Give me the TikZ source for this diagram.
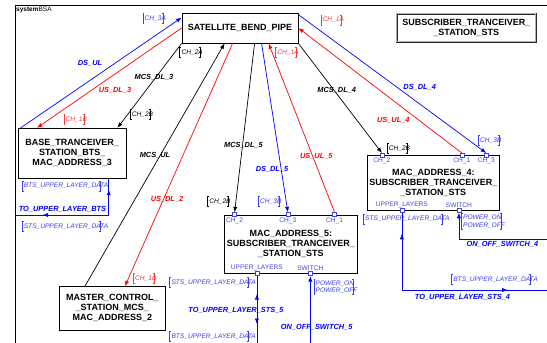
\documentclass[tikz,border=0pt]{standalone}
\usepackage{fontspec}
\setmainfont{Liberation Sans}
\usetikzlibrary{arrows.meta,backgrounds,decorations.markings}
\definecolor{lineblue}{RGB}{0,0,255}
\definecolor{linered}{RGB}{255,0,0}
\definecolor{tagblue}{RGB}{60,60,235}
\definecolor{tagred}{RGB}{240,60,60}
\definecolor{portblue}{RGB}{70,70,220}
\newcommand{\blockfont}{\fontsize{9}{10}\selectfont\bfseries}
\newcommand{\flowfont}{\fontsize{7.4}{8}\selectfont\bfseries\itshape}
\newcommand{\tagfont}{\fontsize{6.6}{7.2}\selectfont\itshape}
\newcommand{\portfont}{\fontsize{6.6}{7}\selectfont}

\begin{document}
\begin{tikzpicture}[%
    x=1pt, y=-1pt,%
    show background rectangle,%
    tight background,%
    background rectangle/.style={fill=white}%
  ]
  \tikzset{%
    block/.style={draw=black, line width=0.8pt, align=center, font=\blockfont, inner sep=0pt},%
    port/.style={draw=portblue, fill=white, line width=0.6pt, minimum size=4pt, inner sep=0pt, label distance=1.5pt},%
    portlbl/.style={font=\portfont, text=portblue, inner sep=0.5pt},%
    flow/.style={font=\flowfont, inner sep=0pt},%
    tag/.style={font=\tagfont, inner xsep=1.5pt, inner ysep=1.6pt, text height=5pt, text depth=1.4pt},%
    tagtwo/.style={font=\tagfont, inner xsep=1.5pt, inner ysep=1.2pt, align=left},%
    link/.style={line width=0.7pt},%
    toarrow/.style={-{Latex[length=5.5pt,width=4.2pt]}},%
    fromarrow/.style={{Latex[length=5.5pt,width=4.2pt]}-},%
    midarrows/.style 2 args={postaction=decorate, decoration={markings,%
        mark=at position #1 with {\arrowreversed{Latex[length=5.5pt,width=4.2pt]}},%
        mark=at position #2 with {\arrow{Latex[length=5.5pt,width=4.2pt]}}}}%
  }%
  \useasboundingbox (0,0) rectangle (547,343);%

  %
  % Frame
  %
  \coordinate (frame nw) at (15,5.5);%
  \coordinate (bottom edge) at (0,343);%
  \coordinate (right edge) at (547,0);%
  \draw[line width=0.8pt] (frame nw |- bottom edge) -- (frame nw) -- (frame nw -| right edge);%
  \node[anchor=north west, inner sep=0.5pt, font=\fontsize{6.5}{7}\selectfont] (sysname)%
  at ([xshift=0.5pt,yshift=-0.8pt]frame nw) {\textbf{system}BSA};%

  %
  % Blocks
  %
  \node[block, minimum width=116pt, minimum height=30pt] (sat) at (240,28) {SATELLITE\_BEND\_PIPE};%
  \node[block, draw=black!85, line width=0.6pt, double=black!30, double distance=1.2pt,%
    minimum width=139pt, minimum height=28pt] (sts) at (466.3,27.8) {SUBSCRIBER\_TRANCEIVER\_\\\_STATION\_STS};%
  \node[block, minimum width=107.7pt, minimum height=50pt] (bts) at (72.2,153.3)%
  {BASE\_TRANCEIVER\_\\STATION\_BTS\_\\MAC\_ADDRESS\_3};%
  \node[block, minimum width=106pt, minimum height=43.3pt] (mcs) at (112.3,308.3)%
  {MASTER\_CONTROL\_\\\_STATION\_MCS\_\\MAC\_ADDRESS\_2};%
  \node[block, minimum width=133pt, minimum height=58.3pt] (mac5) at (290.8,244.2)%
  {MAC\_ADDRESS\_5:\\SUBSCRIBER\_TRANCEIVER\_\\\_STATION\_STS};%
  \node[block, minimum width=132pt, minimum height=54.3pt] (mac4) at (433.3,182.9)%
  {MAC\_ADDRESS\_4:\\SUBSCRIBER\_TRANCEIVER\_\\\_STATION\_STS};%

  % Ports
  \foreach \p/\blk/\dx/\txt in {m5ch2/mac5/10.7/CH\_2, m5ch3/mac5/64/CH\_3, m5ch1/mac5/110.7/CH\_1,%
      m4ch2/mac4/15/CH\_2, m4ch1/mac4/95/CH\_1, m4ch3/mac4/119.4/CH\_3} {%
      \node[port, label={[portlbl]below:\txt}] (\p) at ([xshift=\dx pt]\blk.north west) {};%
    }%
  \foreach \p/\blk/\dx/\txt in {m5up/mac5/33/UPPER\_LAYERS, m5sw/mac5/86.4/SWITCH,%
      m4up/mac4/35/UPPER\_LAYERS, m4sw/mac4/92/SWITCH} {%
      \node[port, label={[portlbl]above:\txt}] (\p) at ([xshift=\dx pt]\blk.south west) {};%
    }%

  %
  % Channels
  %
  \draw[link, lineblue, toarrow] ([xshift=2.7pt]bts.north west) -- ([yshift=-5pt]sat.north west);%
  \draw[link, linered, toarrow] (sat.west) -- ([xshift=19pt]bts.north west);%
  \draw[link, toarrow] (sat.south west) -- ([xshift=-9pt]bts.north east);%
  \draw[link, toarrow] ([xshift=26pt]mcs.north west) -- ([xshift=43pt]sat.south west);%
  \draw[link, linered, toarrow] ([xshift=51pt]sat.south west) -- ([xshift=66pt]mcs.north west);%
  \draw[link, toarrow] ([xshift=73pt]sat.south west) -- (m5ch2.north);%
  \draw[link, lineblue, toarrow] ([xshift=80pt]sat.south west) -- (m5ch3.north);%
  \draw[link, linered, toarrow] (m5ch1.north) -- ([xshift=87pt]sat.south west);%
  \draw[link, toarrow] (sat.south east) -- (m4ch2.north);%
  \draw[link, linered, toarrow] (m4ch1.north) -- (sat.east);%
  \draw[link, lineblue, toarrow] ([yshift=-2pt]sat.north east) -- (m4ch3.north);%

  % Upper layers and switches
  \coordinate (bts data end) at (15,215);%
  \coordinate (sts4 end) at (547,290);%
  \coordinate (sw4 end) at (547,239);%
  \draw[link, lineblue, midarrows={11pt}{102.5pt}] ([xshift=-17.7pt]bts.south east) |- (bts data end);%
  \draw[link, lineblue, midarrows={18pt}{48pt}] (m5up.south) -- (m5up |- bottom edge);%
  \draw[link, lineblue, midarrows={21pt}{183pt}] (m4up.south) |- (sts4 end);%
  \draw[link, lineblue, fromarrow] (m5sw.south) -- (m5sw |- bottom edge);%
  \draw[link, lineblue, fromarrow] (m4sw.south) |- (sw4 end);%

  %
  % Labels
  %
  \foreach \n/\c/\x/\y/\txt in {dsul/lineblue/90/63/DS\_UL, usdl3/linered/115/90/US\_DL\_3,%
      mcsdl3/black/154/77/MCS\_DL\_3, mcsul/black/155/155/MCS\_UL, usdl2/linered/167/199/US\_DL\_2,%
      mcsdl5/black/243.5/145/MCS\_DL\_5, dsdl5/lineblue/272/169.3/DS\_DL\_5,%
      usul5/linered/316.3/156/US\_UL\_5, mcsdl4/black/336.7/90/MCS\_DL\_4,%
      dsdl4/lineblue/419.7/87.3/DS\_DL\_4, usul4/linered/393.3/120/US\_UL\_4,%
      upbts/lineblue/62.5/209.3/TO\_UPPER\_LAYER\_BTS, upsts5/lineblue/236/310.7/TO\_UPPER\_LAYER\_STS\_5,%
      onoff5/lineblue/316.7/327.7/ON\_OFF\_SWITCH\_5, onoff4/lineblue/502.5/244/ON\_OFF\_SWITCH\_4,%
      upsts4/lineblue/462.5/297.3/TO\_UPPER\_LAYER\_STS\_4} {%
      \node[flow, \c] (\n) at (\x,\y) {\txt};%
    }%

  % Bracketed tags
  \foreach \n/\st/\c/\x/\y/\s/\txt in {t1/tag/tagblue/155.3/18.3/4/CH\_3A, t2/tag/tagred/76.3/119.3/4/CH\_1B,%
      t3/tag/black/142.5/114.7/4/CH\_2B, t4/tag/black/192.2/52.3/4/CH\_2A, t5/tag/tagred/145.8/278.3/4/CH\_1B,%
      t6/tag/black/220/201.7/4/CH\_2B, t7/tag/tagblue/270.8/201.7/4/CH\_3B, t8/tag/tagred/288/52.3/4/CH\_1A,%
      t9/tag/tagred/333.3/20/4/CH\_1A, t10/tag/black/399.5/148.3/4/CH\_2B, t11/tag/tagblue/490.8/140.7/4/CH\_3B,%
      t12/tag/tagblue/66/186/9/BTS\_UPPER\_LAYER\_DATA, t13/tag/tagblue/66/226.7/9/STS\_UPPER\_LAYER\_DATA,%
      t14/tag/tagblue/213.7/282.3/9/STS\_UPPER\_LAYER\_DATA, t15/tag/tagblue/213.7/336.7/9/BTS\_UPPER\_LAYER\_DATA,%
      t16/tag/tagblue/407.4/219/9/STS\_UPPER\_LAYER\_DATA, t17/tag/tagblue/495.5/279.3/9/BTS\_UPPER\_LAYER\_DATA,%
      p5/tagtwo/tagblue/336.5/286.7/5.5/POWER\_ON\\POWER\_OFF, p4/tagtwo/tagblue/484/221.5/5.5/POWER\_ON\\POWER\_OFF} {%
      \node[\st, \c] (\n) at (\x,\y) {\txt};%
      \draw[\c, line width=0.8pt] ([xshift=1.5pt]\n.north west) -| (\n.south west) -- ++(1.5,0);%
      \draw[\c, line width=0.8pt] ([xshift=-\s pt]\n.north east) ++(-1.5,0) -- ++(1.5,0)%
      |- ([xshift=-\s pt-1.5pt]\n.south east);%
    }%
\end{tikzpicture}
\end{document}
